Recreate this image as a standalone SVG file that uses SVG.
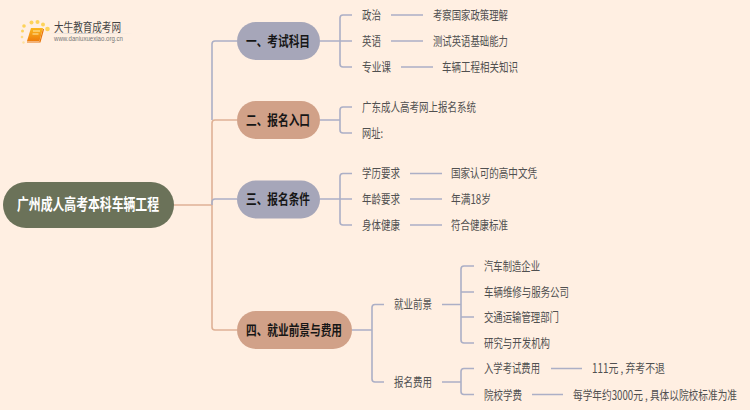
<svg xmlns="http://www.w3.org/2000/svg" width="750" height="410" viewBox="0 0 750 410">
<defs>
<linearGradient id="bk" x1="0" y1="0" x2="0" y2="1"><stop offset="0" stop-color="#fbb81e"/><stop offset="1" stop-color="#ee7d0c"/></linearGradient>
<linearGradient id="ln" x1="0" y1="0" x2="1" y2="0"><stop offset="0" stop-color="#ddd" stop-opacity="0"/><stop offset=".4" stop-color="#ccc"/><stop offset="1" stop-color="#ddd" stop-opacity="0"/></linearGradient>
</defs>
<style>
text{font-family:"Noto Sans CJK SC","Liberation Sans",sans-serif}
.t{font-size:12.500px;fill:#505050}
.h{font-size:13.500px;font-weight:700;fill:#161616}
.c{fill:none;stroke-width:1.6}
.b{stroke:#acafc6}
.p{stroke:#dfb196}
</style>
<rect width="750" height="410" fill="#ffefe2"/>
<g id="logo">
<g fill="#fdd35a"><circle cx="24" cy="26" r="1.8"/><circle cx="31.500" cy="22.500" r="2"/><circle cx="37.500" cy="22" r="2"/><circle cx="43" cy="24.500" r="2"/><circle cx="47.500" cy="29" r="2.300"/><circle cx="22.500" cy="31" r="1.500"/><circle cx="22" cy="37" r="1.300" opacity=".7"/><circle cx="23.500" cy="42.500" r="1.200" opacity=".5"/></g>
<path d="M31 28h12l-3.500 13h-12.500z" fill="url(#bk)"/>
<path d="M27 42h13l3.500-13" fill="none" stroke="#e8760c" stroke-width="1.200"/>
<path d="M33 31h7M32.500 34h6" stroke="#ffe9a8" stroke-width="1.200"/>
<text x="54" y="32" font-size="12" fill="#444" textLength="67" lengthAdjust="spacingAndGlyphs">大牛教育成考网</text>
<rect x="48" y="33" width="85" height="1" fill="url(#ln)"/>
<text x="54" y="41" font-size="6.500" fill="#777" textLength="69" lengthAdjust="spacingAndGlyphs" style="font-family:'Liberation Sans',sans-serif">www.daniuxuexiao.org.cn</text>
</g>
<g id="connectors">
<path class="c p" d="M174 205H212"/>
<path class="c b" d="M237 41H215Q212 41 212 44V120"/>
<path class="c p" d="M237 120H215Q212 120 212 123V327Q212 330 215 330H237"/>
<path class="c b" d="M212 205V202Q212 199 215 199H237"/>
<path class="c b" d="M320 41H352M340 41V18Q340 15 343 15H352M340 41V64Q340 67 343 67H352"/>
<path class="c b" d="M391 15H423M391 41H423M401 67H433"/>
<path class="c b" d="M320 120H340M340 120V110Q340 107 343 107H352M340 120V130Q340 133 343 133H352"/>
<path class="c b" d="M320 199H352M340 199V176.500Q340 173.500 343 173.500H352M340 199V222Q340 225 343 225H352"/>
<path class="c b" d="M410 173.500H442M410 199H442M410 225H442"/>
<path class="c b" d="M352 330H372M372 330V307.500Q372 304.500 375 304.500H384M372 330V379Q372 382 375 382H384"/>
<path class="c b" d="M442 304.500H461M461 304.500V269Q461 266 464 266H474M461 292H474M461 317H474M461 304.500V340Q461 343 464 343H474"/>
<path class="c b" d="M442 382H461M461 382V371.500Q461 368.500 464 368.500H474M461 382V391.500Q461 394.500 464 394.500H474"/>
<path class="c b" d="M551 368.500H582M532 394.500H563"/>
</g>
<g id="root"><rect x="3" y="182" width="171" height="46" rx="23" fill="#6b7259"/><text x="17" y="210" font-size="15.500" font-weight="700" fill="#fff" textLength="142" lengthAdjust="spacingAndGlyphs">广州成人高考本科车辆工程</text></g>
<g id="n1"><rect x="237" y="22" width="83" height="38" rx="19" fill="#a6a6b9"/><text class="h" x="246" y="46" textLength="64" lengthAdjust="spacingAndGlyphs">一、考试科目</text></g>
<g id="n2"><rect x="237" y="101" width="83" height="38" rx="19" fill="#d1a188"/><text class="h" x="246" y="125" textLength="64" lengthAdjust="spacingAndGlyphs">二、报名入口</text></g>
<g id="n3"><rect x="237" y="180.500" width="83" height="38" rx="19" fill="#a6a6b9"/><text class="h" x="246" y="204" textLength="64" lengthAdjust="spacingAndGlyphs">三、报名条件</text></g>
<g id="n4"><rect x="237" y="311" width="115" height="38" rx="19" fill="#d1a188"/><text class="h" x="246" y="335" textLength="96" lengthAdjust="spacingAndGlyphs">四、就业前景与费用</text></g>
<g id="labels">
<text class="t" x="362" y="19.500" textLength="19" lengthAdjust="spacingAndGlyphs">政治</text>
<text class="t" x="433" y="19.500" textLength="75" lengthAdjust="spacingAndGlyphs">考察国家政策理解</text>
<text class="t" x="362" y="45.500" textLength="19" lengthAdjust="spacingAndGlyphs">英语</text>
<text class="t" x="433" y="45.500" textLength="75" lengthAdjust="spacingAndGlyphs">测试英语基础能力</text>
<text class="t" x="362" y="71.500" textLength="29" lengthAdjust="spacingAndGlyphs">专业课</text>
<text class="t" x="442" y="71.500" textLength="76" lengthAdjust="spacingAndGlyphs">车辆工程相关知识</text>
<text class="t" x="362" y="111.500" textLength="114" lengthAdjust="spacingAndGlyphs">广东成人高考网上报名系统</text>
<text class="t" x="362" y="137.500" textLength="21" lengthAdjust="spacingAndGlyphs">网址:</text>
<text class="t" x="362" y="178" textLength="38" lengthAdjust="spacingAndGlyphs">学历要求</text>
<text class="t" x="451" y="178" textLength="86" lengthAdjust="spacingAndGlyphs">国家认可的高中文凭</text>
<text class="t" x="362" y="204" textLength="38" lengthAdjust="spacingAndGlyphs">年龄要求</text>
<text class="t" x="451" y="204" textLength="40" lengthAdjust="spacingAndGlyphs">年满18岁</text>
<text class="t" x="362" y="229.500" textLength="38" lengthAdjust="spacingAndGlyphs">身体健康</text>
<text class="t" x="451" y="229.500" textLength="57" lengthAdjust="spacingAndGlyphs">符合健康标准</text>
<text class="t" x="394" y="309" textLength="38" lengthAdjust="spacingAndGlyphs">就业前景</text>
<text class="t" x="394" y="386.500" textLength="38" lengthAdjust="spacingAndGlyphs">报名费用</text>
<text class="t" x="484" y="270.500" textLength="56" lengthAdjust="spacingAndGlyphs">汽车制造企业</text>
<text class="t" x="484" y="296.500" textLength="85" lengthAdjust="spacingAndGlyphs">车辆维修与服务公司</text>
<text class="t" x="484" y="321.500" textLength="75" lengthAdjust="spacingAndGlyphs">交通运输管理部门</text>
<text class="t" x="484" y="347.500" textLength="66" lengthAdjust="spacingAndGlyphs">研究与开发机构</text>
<text class="t" x="484" y="373" textLength="56" lengthAdjust="spacingAndGlyphs">入学考试费用</text>
<text class="t" x="592" y="373" textLength="73" lengthAdjust="spacingAndGlyphs">111元 , 弃考不退</text>
<text class="t" x="484" y="399.500" textLength="38" lengthAdjust="spacingAndGlyphs">院校学费</text>
<text class="t" transform="translate(573 399.500) scale(.775 1)">每学年约3000元 , 具体以院校标准为准</text>
</g>
</svg>
